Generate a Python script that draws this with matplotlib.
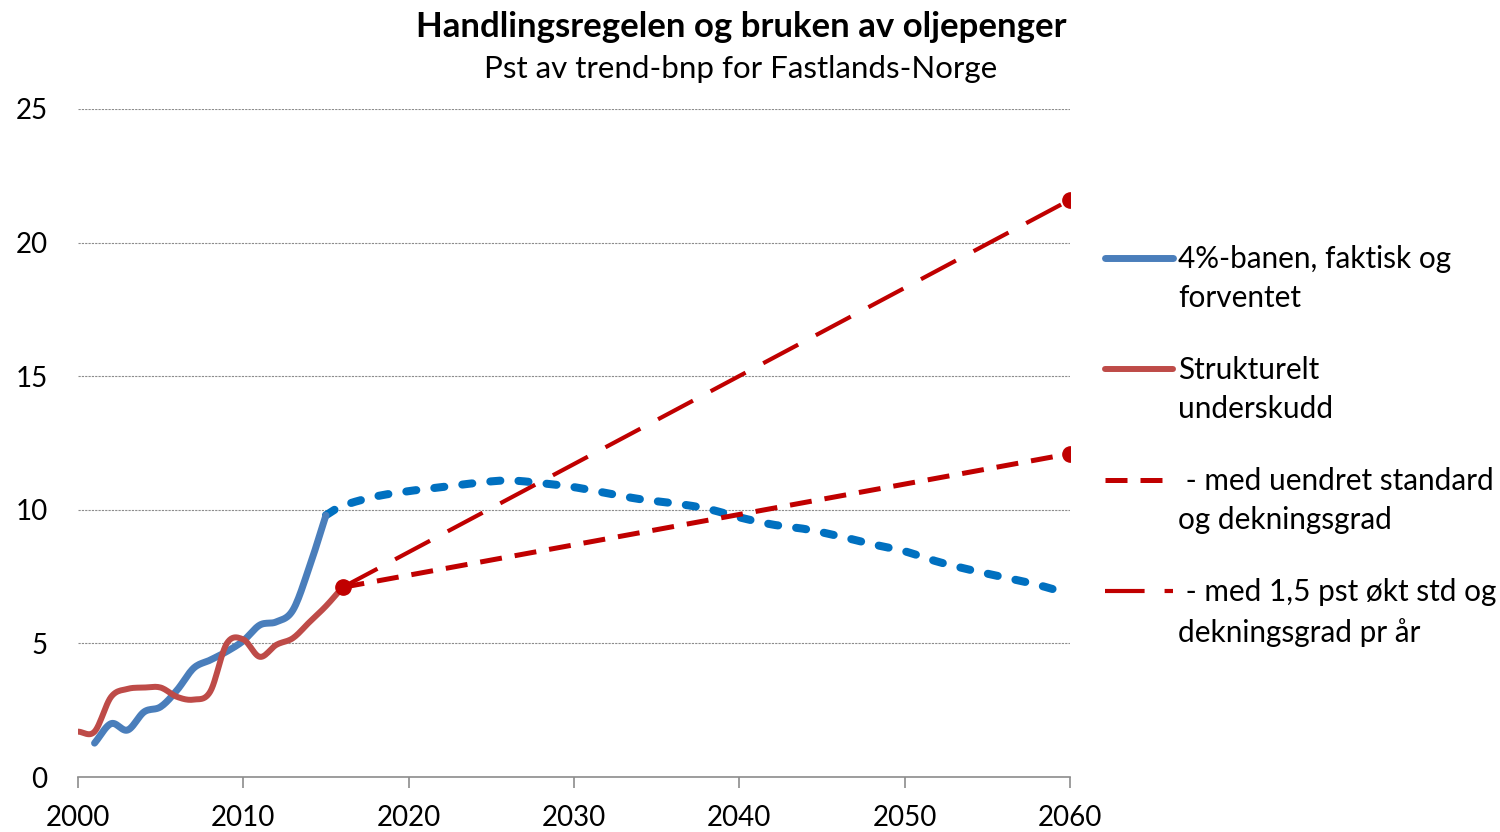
import matplotlib.pyplot as plt
from matplotlib.lines import Line2D
import numpy as np

plt.rcParams['font.family'] = ['Lato', 'DejaVu Sans']

# Historical series (pst av trend-bnp)
hist_years = list(range(2000, 2017))
deficit = [1.7, 1.7, 3.0, 3.3, 3.35, 3.35, 3.0, 2.9, 3.2, 5.0, 5.15, 4.5, 4.95, 5.2, 5.8, 6.4, 7.1]

path_years = list(range(2001, 2016))
path_actual = [1.27, 2.0, 1.76, 2.44, 2.63, 3.26, 4.08, 4.38, 4.7, 5.1, 5.69, 5.81, 6.25, 7.87, 9.8]

# Expected 4% path
fc_years = [2015, 2016, 2018, 2020, 2022, 2024, 2026, 2028, 2030, 2032, 2034, 2036,
            2038, 2040, 2042, 2044, 2046, 2048, 2050, 2052, 2054, 2056, 2058, 2060]
path_fc = [9.8, 10.15, 10.5, 10.7, 10.85, 11.0, 11.1, 11.0, 10.85, 10.62, 10.4, 10.25,
           10.05, 9.72, 9.45, 9.28, 9.02, 8.72, 8.45, 8.06, 7.75, 7.48, 7.2, 6.85]

# Deficit scenarios
scen_years = [2016, 2060]
scen_unchanged = [7.1, 12.1]
scen_increase = [7.1, 21.6]

legend_labels = ['4%-banen, faktisk og\nforventet', 'Strukturelt\nunderskudd',
                 ' - med uendret standard\nog dekningsgrad',
                 ' - med 1,5 pst økt std og\ndekningsgrad pr år']


def smooth(x, y, n=12):
    # Excel-style smoothed line (Catmull-Rom)
    x = np.asarray(x, float)
    y = np.asarray(y, float)
    px = np.concatenate([[2 * x[0] - x[1]], x, [2 * x[-1] - x[-2]]])
    py = np.concatenate([[2 * y[0] - y[1]], y, [2 * y[-1] - y[-2]]])
    xs, ys = [], []
    t = np.linspace(0, 1, n, endpoint=False)
    for i in range(1, len(px) - 2):
        for arr, out in ((px, xs), (py, ys)):
            p0, p1, p2, p3 = arr[i - 1], arr[i], arr[i + 1], arr[i + 2]
            out.extend(0.5 * ((2 * p1) + (-p0 + p2) * t
                              + (2 * p0 - 5 * p1 + 4 * p2 - p3) * t ** 2
                              + (-p0 + 3 * p1 - 3 * p2 + p3) * t ** 3))
    xs.append(x[-1])
    ys.append(y[-1])
    return np.array(xs), np.array(ys)


blue = '#4A7EBB'
red = '#BE4B48'
blue_d = '#0070C0'
red_d = '#C00000'

fig = plt.figure(figsize=(15, 8.32), dpi=100)
ax = fig.add_axes([0.052, 0.066, 0.6613, 0.803])

ax.plot(*smooth(fc_years, path_fc), color=blue_d, lw=5.8, linestyle=(0, (1.25, 2.25)),
        dash_capstyle='round', solid_capstyle='round')
ax.plot(*smooth(path_years, path_actual), color=blue, lw=5, solid_capstyle='round')
ax.plot(*smooth(hist_years, deficit), color=red, lw=4.3, solid_capstyle='round')
ax.plot(scen_years, scen_unchanged, color=red_d, lw=3.6, linestyle=(0, (4.4, 2.6)))
ax.plot(scen_years, scen_increase, color=red_d, lw=3.0, linestyle=(0, (9.5, 4.8)))
ax.plot([scen_years[0], scen_years[1], scen_years[1]],
        [scen_unchanged[0], scen_unchanged[1], scen_increase[1]],
        'o', color=red_d, ms=11, zorder=5)

ax.set_xlim(2000, 2060)
ax.set_ylim(0, 25)
ax.set_xticks(range(2000, 2061, 10))
ax.set_yticks(range(0, 26, 5))
ax.yaxis.grid(True, color='#8C8C8C', lw=0.8, linestyle=(0, (2, 1)))
ax.set_axisbelow(True)
for s in ['top', 'right', 'left']:
    ax.spines[s].set_visible(False)
ax.spines['bottom'].set_color('#8C8C8C')
ax.spines['bottom'].set_linewidth(1.2)
ax.tick_params(axis='x', length=8, width=1.2, color='#8C8C8C', direction='out',
               labelsize=20, pad=12)
ax.tick_params(axis='y', length=0, labelsize=20, pad=22)

fig.text(0.494, 0.968, 'Handlingsregelen og bruken av oljepenger', ha='center', va='center',
         fontsize=25, fontweight='bold')
fig.text(0.494, 0.917, 'Pst av trend-bnp for Fastlands-Norge', ha='center', va='center',
         fontsize=22.5)

# legend drawn by hand so the key sits beside the first line of each label
styles = [dict(color=blue, lw=5, solid_capstyle='round'),
          dict(color=red, lw=4.3, solid_capstyle='round'),
          dict(color=red_d, lw=3.6, linestyle=(0, (4.4, 2.6))),
          dict(color=red_d, lw=3.0, linestyle=(0, (9.5, 4.8)))]
for i, (lab, st) in enumerate(zip(legend_labels, styles)):
    yc = 1 - (258 + i * 111) / 832
    fig.add_artist(Line2D([1105 / 1500, 1173 / 1500], [yc, yc], **st))
    fig.text(1178 / 1500, yc + 0.0157, lab, ha='left', va='top', fontsize=21.4,
             linespacing=1.5)

fig.savefig('out.png', dpi=100)
